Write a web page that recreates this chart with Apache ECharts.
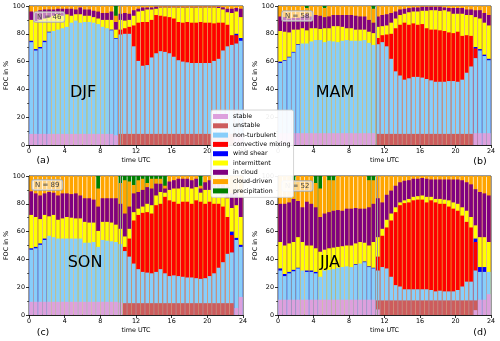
<!DOCTYPE html>
<html lang="en">
<head>
<meta charset="UTF-8">
<title>FOC by season</title>
<style>html,body{margin:0;padding:0;background:#fff}</style>
</head>
<body>
<div id="main" style="width:500px;height:341px"></div>
<script src="https://cdn.jsdelivr.net/npm/echarts@6/dist/echarts.min.js"></script>
<script>
// half-hour slots (start time, UTC)
var slots = [0,0.5,1,1.5,2,2.5,3,3.5,4,4.5,5,5.5,6,6.5,7,7.5,8,8.5,9,9.5,10,10.5,11,11.5,12,12.5,13,13.5,14,14.5,15,15.5,16,16.5,17,17.5,18,18.5,19,19.5,20,20.5,21,21.5,22,22.5,23,23.5];
var xTicks = [0,4,8,12,16,20,24];
var yTicks = [0,20,40,60,80,100];

var seasons = ['DJF','MAM','SON','JJA'];
var counts = [46,58,89,52];
var panelTags = ['(a)','(b)','(c)','(d)'];
var switchHour = [10.2,11.1,10.25,11.15];

// each array = level (in %) of the TOP edge of that class in the stacked bar, 0 = class absent
var djfStable = [8,8,8,8,8,8,8,8,8,8,8,8,8,8,8,8,8,8,8,7,0,0,0,0,0,0,0,0,0,0,0,0,0,0,0,0,0,0,0,0,0,0,0,0,0,0,8,8];
var djfUnstable = [0,0,0,0,0,0,0,0,0,0,0,0,0,0,0,0,0,0,0,0,8,8,8,8,8,8,8,8,8,8,8,8,8,8,8,8,8,8,8,8,8,8,8,8,8,8,0,0];
var djfNonTurb = [74,68,69.5,74,81,82,83,84,85,88,89.5,88,88.5,88.5,88,87,85,84,82.5,76.5,79.5,80,80,71,60.5,57,57.5,63,66,67.5,67,66,63.5,61,60,59.5,59,59,59,59,59,60.5,62,68,71,72,73,75];
var djfConvective = [0,0,0,0,0,0,0,0,0,0,0,0,0,0,0,0,0,0,0,0,83,84,85,86,88,88.5,88.5,90,93.5,93,92.5,92,91,88.5,88,88.5,88,88,88.5,88,88,87.5,88,88,86.5,79,79,0];
var djfWindShear = [75,69,70.5,75,81.5,0,0,0,0,0,0,0,0,0,0,0,0,0,83,77,0,0,0,0,0,0,0,0,0,0,0,0,0,0,0,0,0,0,0,0,0,0,0,0,0,0,80,77];
var djfIntermittent = [90,89,90,91,92,93,94,93,94,93,94,94,93,93,92,91,90,90,90,83,90,89.5,90,93,96,96.5,97.5,97.5,98,99,99,99,99,99,99,99,99,99,99,99,99,99,98.5,97.5,95.5,95,96,92];
var djfInCloud = [96,95.5,97,97.5,97.5,97.5,98,98,98,98,97.5,99,97.5,97.5,96.5,96,95,95,96,88.5,94.5,95,94.5,97,98,99,99,99,99.5,99.5,99.5,99.5,99.5,99.5,99.5,99.5,99.5,99.5,99.5,99.5,99.5,99.5,99.5,99,98,98,98.5,98];
var djfCloudDriven = [100,100,100,100,100,100,100,100,100,100,100,100,100,100,100,100,100,100,100,93,100,100,100,100,100,100,100,100,100,100,100,100,100,100,100,100,100,100,100,100,100,100,100,100,100,100,100,100];
var djfPrecip = [0,0,0,0,0,0,0,0,0,0,0,0,0,0,0,0,0,0,0,100,0,0,0,0,0,0,0,0,0,0,0,0,0,0,0,0,0,0,0,0,0,0,0,0,0,0,0,0];

var mamStable = [8.5,8.5,8.5,8.5,8.5,8.5,8.5,8.5,8.5,8.5,8.5,8.5,8.5,8.5,8.5,8.5,8.5,8.5,8.5,8.5,8.5,8.5,0,0,0,0,0,0,0,0,0,0,0,0,0,0,0,0,0,0,0,0,0,0,8.5,8.5,8.5,8.5];
var mamUnstable = [0,0,0,0,0,0,0,0,0,0,0,0,0,0,0,0,0,0,0,0,0,0,8,8,8,8,8,8,8,8,8,8,8,8,8,8,8,8,8,8,8,8,8,8,0,0,0,0];
var mamNonTurb = [59,60.5,63,66.5,72,73,73,74.5,75.5,75.5,74,75,74.5,74,75,75.5,75,75,75,75.5,73.5,72,72.5,74,71,62,53,50,47,48,49,49,48.5,47.5,46.5,45.5,45.5,45.5,46,46,45.5,47,52,56.5,62.5,68,64,61];
var mamConvective = [0,0,0,0,0,0,0,0,0,0,0,0,0,0,0,0,0,0,0,0,0,0,77,79,79.5,80,84,86.5,88,86.5,87.5,86.5,87,84,83,83,82.5,82,81,80.5,81.5,78.5,79,78.5,69.5,0,0,0];
var mamWindShear = [60,61,63.5,67,72.5,0,0,0,0,0,0,0,0,0,0,0,0,0,0,0,0,0,0,0,0,0,0,0,0,0,0,0,0,0,0,0,0,0,0,0,0,0,0,0,70.5,69,65,62];
var mamIntermittent = [82,81.5,81,83,83,84,82.5,84,84,83.5,84,84,85.5,85.5,85,84,84,83,83,83,81.5,80.5,85,85.5,86,88,91,93.5,94.5,95.5,96,96,96.5,96.5,97,97,96.5,97,96,94.5,94.5,94.5,93.5,93.5,92,91,88,86];
var mamInCloud = [92.5,92,91,91.5,91.5,92.5,94,92.5,93.5,93,92,92.5,93.5,93.5,93.5,93.5,93.5,93,92.5,92.5,90,88,92.5,93.5,94,95,96,97.5,98,98.5,99,99,99.5,99.5,99.5,99.5,99.5,99,98.5,98.5,98.5,98.5,97.5,97.5,97,97,95,93.5];
var mamCloudDriven = [100,100,100,100,100,100,98.5,100,100,100,98.5,100,100,100,100,100,100,100,100,100,100,98,100,100,100,100,100,100,100,100,100,100,100,100,100,100,100,100,100,100,100,100,100,100,100,100,100,100];
var mamPrecip = [0,0,0,0,0,0,100,0,0,0,100,0,0,0,0,0,0,0,0,0,0,100,0,0,0,0,0,0,0,0,0,0,0,0,0,0,0,0,0,0,0,0,0,0,0,0,0,0];

var sonStable = [9.5,9.5,9.5,9.5,9.5,9.5,9.5,9.5,9.5,9.5,9.5,9.5,9.5,9.5,9.5,9.5,9.5,9.5,9.5,9.5,9,0,0,0,0,0,0,0,0,0,0,0,0,0,0,0,0,0,0,0,0,0,0,0,0,0,5,13];
var sonUnstable = [0,0,0,0,0,0,0,0,0,0,0,0,0,0,0,0,0,0,0,0,0,8.5,8.5,8.5,8.5,8.5,8.5,8.5,8.5,8.5,8.5,8.5,8.5,8.5,8.5,8.5,8.5,8.5,8.5,8.5,8.5,8.5,8.5,8.5,8.5,8.5,0,0];
var sonNonTurb = [47,48,50.5,54,57,56,55,55,55,55,55,55,52,52,52.5,49,54,53.5,53,52.5,51,46,42,37,33,31,30.5,30,31,33,30,28,28.5,28,27.5,27,27,26.5,26,26.5,28,30,34,38,44,45,54,49];
var sonConvective = [0,0,0,0,0,0,0,0,0,0,0,0,0,0,0,0,0,0,0,0,0,49,55,68,72,73.5,74,73,79,80,85,82.5,81.5,80,81.5,81.5,80,82.5,81.5,80,81.5,80,80,78,70.5,57.5,0,0];
var sonWindShear = [48,49,51.5,55,0,0,0,0,0,0,0,0,0,0,0,0,0,0,0,0,0,0,0,0,0,0,0,0,0,0,0,0,0,0,0,0,0,0,0,0,0,0,0,0,0,60,55.5,50.5];
var sonIntermittent = [72,70.5,69,72,71,72,68.5,69.5,70.5,70,69.5,69.5,67,66.5,66.5,60.5,67,67,66.5,65,62,56.5,62,74,76.5,78,80,79,86,88.5,88,90,91,91,92,92,91,92,88,90,90,88.5,87.5,86,84,77,79,70.5];
var sonInCloud = [89,87.5,86,87.5,88.5,88,86,87.5,87.5,87,87.5,86,84,84,83,78,84,84,84,84,80,73,78,87.5,88.5,90,92,91,94.5,94.5,91,96,97,98,98,98,97,98,91,95.5,97,95.5,94.5,93.5,92,87.5,88,85];
var sonCloudDriven = [100,100,100,100,100,100,100,100,100,100,100,100,100,100,100,91,100,100,100,100,95,97,96,93.5,97,98,95,98,98,98,93,100,100,100,100,100,100,100,93,100,100,100,100,100,100,100,100,100];
var sonPrecip = [0,0,0,0,0,0,0,0,0,0,0,0,0,0,0,100,0,0,0,0,100,100,100,100,100,100,100,100,100,100,100,0,0,0,0,0,0,0,100,0,0,0,0,0,0,0,0,0];

var jjaStable = [11,11,11,11,11,11,11,11,11,11,11,11,11,11,11,11,11,11,11,11,11,11,4,0,0,0,0,0,0,0,0,0,0,0,0,0,0,0,0,0,0,0,0,0,3.5,11,11,15];
var jjaUnstable = [0,0,0,0,0,0,0,0,0,0,0,0,0,0,0,0,0,0,0,0,0,0,10.5,10.5,10.5,10.5,10.5,10.5,10.5,10.5,10.5,10.5,10.5,10.5,10.5,10.5,10.5,10.5,10.5,10.5,10.5,10.5,10.5,10.5,10.5,0,0,0];
var jjaNonTurb = [32,28,30,31.5,33.5,32,31,31,30,27.5,32,32.5,33,34,34.5,35,34.5,36,37,38,34.5,33.5,32,34.5,33.5,27.5,21.5,20.5,18.5,18.5,18.5,18.5,18.5,18.5,18,17,17.5,17,17,17,18,20.5,24,24,32,31,31,31];
var jjaConvective = [0,0,0,0,0,0,0,0,0,0,0,0,0,0,0,0,0,0,0,0,0,0,42,57,63,68,74,79,80.5,81,82.5,83,83,81,82.5,81,80,80,78,76.5,75,71.5,67,63,52.5,0,0,0];
var jjaWindShear = [33.5,29.5,31,32.5,34,0,32,32,31,0,0,0,0,0,0,0,0,36.5,0,38.5,35,34,0,0,0,0,0,0,0,0,0,0,0,0,0,0,0,0,0,0,0,0,0,0,55,34.5,34.5,0];
var jjaIntermittent = [52.5,50,51.5,52.5,56,52.5,50,50,48,45.5,47,48,48.5,49,49.5,50,50,51.5,52.5,52,50,52.5,56,62,68.5,73,77.5,81,82.5,83.5,85,85.5,86,85,85,83.5,83.5,83,82.5,81,80,77.5,75,70.5,64.5,56,56,52.5];
var jjaInCloud = [80,80,81,83.5,82,77.5,81.5,80,77.5,70.5,73,74,75,75.5,75,76.5,76.5,77,76.5,76.5,77.5,80,84,81,86.5,89.5,93,95.5,96.5,97,98,98,98.5,98,97.5,97.5,97.5,97.5,97.5,97.5,97.5,97,95.5,94,90.5,88.5,87.5,86];
var jjaCloudDriven = [100,100,100,97,100,100,100,100,95,91,100,97,97,100,100,100,100,100,100,100,97,97,100,100,100,100,100,100,100,100,100,100,100,100,100,100,100,100,100,100,100,100,100,100,100,100,100,100];
var jjaPrecip = [0,0,0,100,0,0,0,0,100,100,0,100,100,0,0,0,0,0,0,0,100,100,0,0,0,0,0,0,0,0,0,0,0,0,0,0,0,0,0,0,0,0,0,0,0,0,0,0];

var classNames = ['stable','unstable','non-turbulent','convective mixing','wind shear','intermittent','in cloud','cloud-driven','precipitation'];
var classColors = ['#dda0dd','#cd5c5c','#87cefa','#ff0000','#0000ff','#ffff00','#800080','#ffa500','#008000'];

var seasonTops = [
  [djfStable,djfUnstable,djfNonTurb,djfConvective,djfWindShear,djfIntermittent,djfInCloud,djfCloudDriven,djfPrecip],
  [mamStable,mamUnstable,mamNonTurb,mamConvective,mamWindShear,mamIntermittent,mamInCloud,mamCloudDriven,mamPrecip],
  [sonStable,sonUnstable,sonNonTurb,sonConvective,sonWindShear,sonIntermittent,sonInCloud,sonCloudDriven,sonPrecip],
  [jjaStable,jjaUnstable,jjaNonTurb,jjaConvective,jjaWindShear,jjaIntermittent,jjaInCloud,jjaCloudDriven,jjaPrecip]
];

var grids = [
  {left:29, top:6, width:214, height:139},
  {left:278, top:6, width:213, height:139},
  {left:29, top:176, width:214, height:139},
  {left:278, top:176, width:213, height:139}
];
var seasonLabelPos = [[83,93],[335,93],[85,263],[330,263]];
var nBoxPos = [[34,12],[282,11],[32,180],[282,181]];
var tagPos = [[43,161],[480,162],[43,333],[480,333]];

var black = '#000';
var font = 'DejaVu Sans';
var small = 6.4;
var xAxes = [], yAxes = [], series = [], graphics = [];

grids.forEach(function (g, p) {
  g.show = true;
  g.borderColor = black;
  g.borderWidth = 0.8;

  xAxes.push({type:'category', gridIndex:p, data:slots, show:false, position:'bottom'});
  xAxes.push({
    type:'value', gridIndex:p, position:'bottom', min:xTicks[0], max:xTicks[xTicks.length-1], interval:4,
    name:'time UTC', nameLocation:'middle', nameGap:12,
    nameTextStyle:{fontSize:small, color:black, fontFamily:font},
    axisLine:{lineStyle:{color:black, width:0.8}},
    axisTick:{length:3, lineStyle:{color:black, width:0.8}},
    axisLabel:{fontSize:small, color:black, margin:3, fontFamily:font},
    splitLine:{show:false}
  });
  yAxes.push({
    type:'value', gridIndex:p, min:yTicks[0], max:yTicks[yTicks.length-1], interval:20,
    name:'FOC in %', nameLocation:'middle', nameGap:18,
    nameTextStyle:{fontSize:small, color:black, fontFamily:font},
    axisLine:{show:true, lineStyle:{color:black, width:0.8}},
    axisTick:{show:true, length:3, lineStyle:{color:black, width:0.8}},
    minorTick:{show:true, splitNumber:2, length:2, lineStyle:{color:black, width:0.6}},
    axisLabel:{fontSize:small, color:black, margin:4, fontFamily:font},
    splitLine:{show:false}
  });

  // draw from the highest boundary down, so each lower class paints over the one above
  for (var k = classNames.length - 1; k >= 0; k--) {
    series.push({
      type:'bar', name:classNames[k], xAxisIndex:2*p, yAxisIndex:p,
      data:seasonTops[p][k], barGap:'-100%', barCategoryGap:'16%',
      itemStyle:{color:classColors[k]}, silent:true
    });
  }
  series.push({
    type:'line', xAxisIndex:2*p+1, yAxisIndex:p, data:[], z:5, silent:true,
    markLine:{silent:true, symbol:'none', label:{show:false},
      lineStyle:{color:'#9a9a9a', width:1, type:'solid'},
      data:[{xAxis:switchHour[p]}]}
  });

  graphics.push({type:'text', z:10, x:seasonLabelPos[p][0], y:seasonLabelPos[p][1],
    style:{text:seasons[p], font:'16px ' + font, fill:black, align:'center', verticalAlign:'middle'}});
  graphics.push({type:'text', z:10, x:nBoxPos[p][0], y:nBoxPos[p][1],
    style:{text:'N = ' + counts[p], font:'7px ' + font, fill:'#444', align:'left', verticalAlign:'top',
      backgroundColor:'rgba(255,255,255,0.5)', borderColor:'#aaa', borderWidth:0.8, borderRadius:2, padding:[2,3,1,3]}});
  graphics.push({type:'text', z:10, x:tagPos[p][0], y:tagPos[p][1],
    style:{text:panelTags[p], font:'9.5px ' + font, fill:black, align:'center', verticalAlign:'middle'}});
});

var myChart = echarts.init(document.getElementById('main'));
myChart.setOption({
  animation:false,
  textStyle:{fontFamily:font},
  grid:grids,
  xAxis:xAxes,
  yAxis:yAxes,
  legend:{
    data:classNames, orient:'vertical', left:211, top:110, z:20,
    itemWidth:15, itemHeight:5, itemGap:2.3, icon:'rect', selectedMode:false,
    padding:[3,3,3,2], backgroundColor:'rgba(255,255,255,0.92)',
    borderColor:'#ccc', borderWidth:0.8, borderRadius:2,
    textStyle:{fontSize:6.3, lineHeight:7, color:black, fontFamily:font}
  },
  graphic:graphics,
  series:series
});
</script>
</body>
</html>
